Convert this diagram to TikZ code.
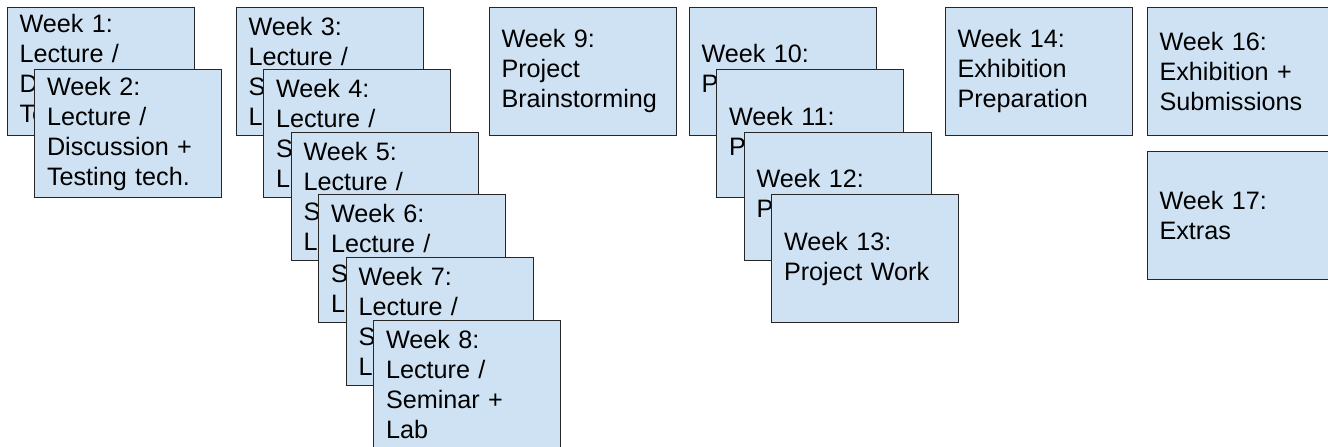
\documentclass[tikz,border=0pt]{standalone}
\usepackage{fontspec}
\setmainfont{Liberation Sans}
\usepackage{tikz}
\usetikzlibrary{positioning}
\definecolor{wkfill}{HTML}{CFE2F3}

\begin{document}
\begin{tikzpicture}[x=0.5pt,y=-0.5pt,
  week/.style={draw=black!85,line width=0.5pt,fill=wkfill,
               minimum width=93.5pt,minimum height=64pt,
               text width=81pt,inner xsep=6pt,inner ysep=2pt,align=left,
               font=\fontsize{12.6}{15}\selectfont},
  stack/.style={at={([shift={(13.75pt,-31.3pt)}]#1.center)}}]
  \useasboundingbox (0,0) rectangle (1328,446);
  \node[week] (w1) at (100.5,71) {Week 1:\\Lecture /\\Discussion +\\Testing tech.};
  \node[week,stack=w1] (w2) {Week 2:\\Lecture /\\Discussion +\\Testing tech.};
  \node[week,right=20.5pt of w1] (w3) {Week 3:\\Lecture /\\Seminar +\\Lab};
  \node[week,stack=w3] (w4) {Week 4:\\Lecture /\\Seminar +\\Lab};
  \node[week,stack=w4] (w5) {Week 5:\\Lecture /\\Seminar +\\Lab};
  \node[week,stack=w5] (w6) {Week 6:\\Lecture /\\Seminar +\\Lab};
  \node[week,stack=w6] (w7) {Week 7:\\Lecture /\\Seminar +\\Lab};
  \node[week,stack=w7] (w8) {Week 8:\\Lecture /\\Seminar +\\Lab};
  \node[week,right=32.5pt of w3] (w9) {Week 9:\\Project\\Brainstorming};
  \node[week,right=6pt of w9] (w10) {Week 10:\\Project Work};
  \node[week,stack=w10] (w11) {Week 11:\\Project Work};
  \node[week,stack=w11] (w12) {Week 12:\\Project Work};
  \node[week,stack=w12] (w13) {Week 13:\\Project Work};
  \node[week,right=34pt of w10] (w14) {Week 14:\\Exhibition\\Preparation};
  \node[week,right=7pt of w14] (w16) {Week 16:\\Exhibition +\\Submissions};
  \node[week,below=7.5pt of w16] (w17) {Week 17:\\Extras};
\end{tikzpicture}
\end{document}
